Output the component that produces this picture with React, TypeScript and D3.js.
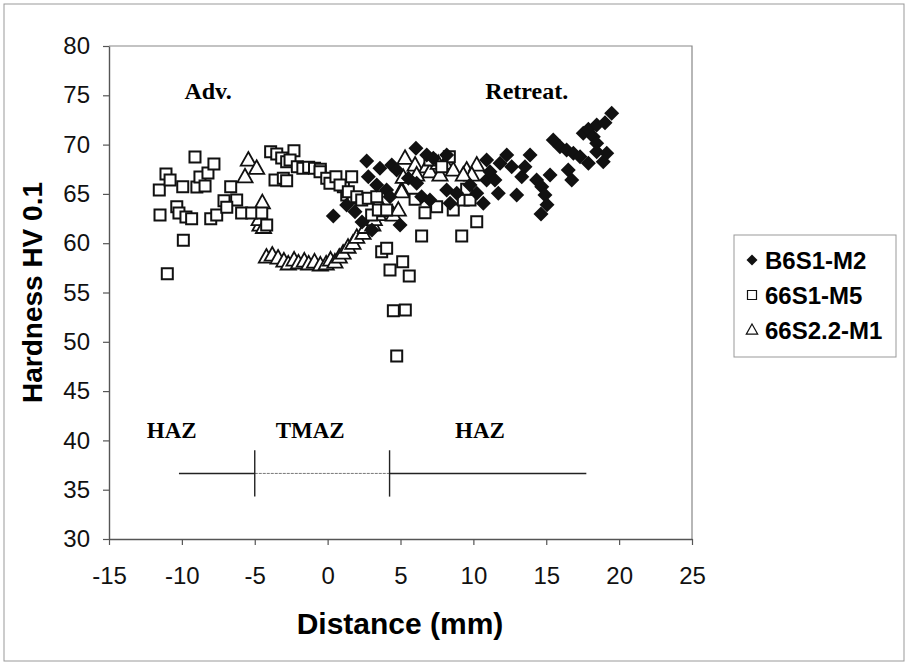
import * as d3 from "d3";
import { useRef, useEffect } from "react";

// series: [distance mm, hardness HV0.1]
const seriesB6S1M2: [number, number][] = [
  [0.39, 62.76], [1.31, 63.87], [1.88, 63.19], [2.36, 62.15], [3.04, 61.34], [4.97, 61.85],
  [2.68, 68.34], [3.59, 67.6], [6.06, 69.62], [4.4, 67.93], [4.74, 67.42], [5.54, 66.58],
  [6.11, 66.07], [6.8, 68.95], [7.25, 68.61], [8.17, 68.95], [2.79, 66.74], [3.37, 65.9],
  [4.05, 65.4], [4.28, 64.72], [6.45, 64.72], [7.02, 64.38], [8.17, 65.4], [8.86, 65.06],
  [8.4, 64.05], [9.77, 65.9], [10.23, 65.06], [10.68, 64.05], [10.91, 66.41],
  [10.91, 68.44], [11.14, 67.25], [11.48, 66.41], [11.71, 65.06], [11.83, 68.1], [12.29, 68.95],
  [12.63, 67.76], [12.97, 64.89], [13.32, 66.74], [13.54, 67.76], [13.89, 68.95], [14.34, 66.41],
  [14.69, 65.73], [14.91, 64.89], [14.64, 62.96], [15.05, 63.9], [15.26, 66.92], [15.48, 70.47],
  [15.94, 69.79], [16.4, 69.45], [16.51, 67.42], [16.75, 66.41], [16.86, 69.12], [17.32, 68.77],
  [17.54, 71.15], [17.89, 71.55], [17.89, 68.1], [18.23, 70.8], [18.46, 71.99], [18.46, 70.13],
  [18.46, 69.28], [18.91, 68.27], [19.03, 72.22], [19.15, 69.12], [19.49, 73.17],
];

const series66S1M5: [number, number][] = [
  [-11.5, 62.86], [-11.55, 65.4], [-11.09, 67.02], [-10.81, 66.4], [-9.94, 65.73], [-9.1, 68.74],
  [-8.97, 65.7], [-8.76, 66.71], [-8.41, 65.8], [-8.21, 67.12], [-7.8, 68.03], [-10.35, 63.7],
  [-10.2, 63.06], [-9.72, 62.66], [-9.33, 62.49], [-8.02, 62.49], [-7.61, 62.86], [-7.11, 64.31],
  [-6.65, 65.73], [-6.24, 64.38], [-6.92, 63.65], [-5.9, 63.06], [-5.21, 63.06], [-4.52, 63.06],
  [-4.18, 61.85], [-11.0, 56.9], [-9.9, 60.3], [-3.91, 69.28], [-3.49, 69.05], [-3.15, 68.64],
  [-2.81, 68.27], [-2.31, 69.38], [-2.58, 68.44], [-3.61, 66.41], [-3.04, 66.58], [-2.81, 66.34],
  [-2.08, 67.76], [-1.7, 67.6], [-1.3, 67.7], [-0.9, 67.6], [-0.5, 67.5], [-0.52, 67.25],
  [-0.06, 66.58], [0.16, 66.07], [0.57, 66.74], [1.08, 65.73], [1.65, 66.74], [1.31, 64.89],
  [1.76, 64.55], [0.85, 65.9], [1.42, 65.22], [2.0, 64.72], [2.34, 64.38], [2.79, 64.55],
  [3.37, 64.72], [3.02, 62.86], [3.48, 63.36], [4.05, 63.36], [6.0, 64.45], [6.68, 63.09],
  [7.48, 63.7], [7.02, 68.44], [8.35, 68.77], [7.83, 67.76], [8.62, 63.36], [9.31, 64.38],
  [9.77, 64.38], [9.54, 65.47], [10.23, 62.18], [3.71, 59.14], [4.05, 59.48], [4.28, 57.28],
  [5.15, 58.12], [5.6, 56.67], [4.51, 53.15], [5.33, 53.23], [4.74, 48.56], [6.45, 60.73],
  [9.2, 60.73],
];

const series66S22M1: [number, number][] = [
  [-5.44, 68.44], [-4.87, 67.6], [-5.67, 66.74], [-4.48, 64.11], [-4.64, 61.85], [-4.7, 62.4],
  [-4.4, 61.6], [-4.2, 58.6], [-3.8, 58.8], [-3.4, 58.5], [-3.0, 58.2], [-2.7, 57.9],
  [-2.3, 58.3], [-2.0, 58.0], [-1.6, 58.2], [-1.3, 57.9], [-0.9, 58.1], [-0.5, 57.8],
  [-0.1, 57.9], [0.2, 58.3], [0.5, 58.1], [0.8, 58.6], [1.06, 59.0], [1.4, 59.6], [1.74, 60.0],
  [2.0, 60.6], [2.43, 61.0], [2.6, 61.6], [3.1, 61.85], [3.2, 62.4], [3.5, 62.9], [3.8, 63.3],
  [4.51, 62.86], [4.85, 63.36], [5.08, 65.4], [5.08, 65.22], [5.31, 68.61], [6.0, 67.93],
  [6.8, 67.76], [7.02, 67.25], [6.11, 66.92], [5.19, 66.68], [7.71, 66.92], [7.59, 68.1],
  [8.05, 68.1], [8.62, 67.42], [9.54, 67.42], [10.23, 67.93], [9.89, 66.92], [9.31, 66.92],
];

const xTicks = [-15, -10, -5, 0, 5, 10, 15, 20, 25];
const yTicks = [30, 35, 40, 45, 50, 55, 60, 65, 70, 75, 80];
const legendNames = ["B6S1-M2", "66S1-M5", "66S2.2-M1"];

// zone annotations
const zoneLabels: [string, number][] = [["HAZ", -10.7], ["TMAZ", -1.2], ["HAZ", 10.45]];
const zoneLineY = 36.65;
const zoneLineEnds = [-10.2, 17.75];
const zoneBounds = [-5, 4.25];

const diamond = (r: number) => `M0,${-r}L${r},0L0,${r}L${-r},0Z`;
const triangle = (r: number) => `M0,${-r}L${r * 0.95},${r * 0.7}L${-r * 0.95},${r * 0.7}Z`;

export default function App() {
  const svgRef = useRef<SVGSVGElement>(null);

  useEffect(() => {
    const svg = d3.select(svgRef.current);
    svg.selectAll("*").remove();

    const x = d3.scaleLinear().domain([-15, 25]).range([109, 692]);
    const y = d3.scaleLinear().domain([30, 80]).range([539, 46]);
    const sans = "'Liberation Sans', Arial, sans-serif";
    const serif = "'Liberation Serif', 'Times New Roman', serif";

    // outer frame
    svg.append("rect").attr("x", 4).attr("y", 4).attr("width", 900).attr("height", 657)
      .attr("fill", "white").attr("stroke", "#999").attr("stroke-width", 1);

    // plot area border
    svg.append("path")
      .attr("d", `M${x(-15)},${y(80)}H${x(25)}V${y(30)}`)
      .attr("fill", "none").attr("stroke", "#888").attr("stroke-width", 1.2);

    // axes
    const fmt = (d: any) => String(d);
    const xAxis = svg.append("g").attr("transform", `translate(0,${y(30)})`)
      .call(d3.axisBottom(x).tickValues(xTicks).tickFormat(fmt).tickSize(6).tickSizeOuter(0).tickPadding(22));
    const yAxis = svg.append("g").attr("transform", `translate(${x(-15)},0)`)
      .call(d3.axisLeft(y).tickValues(yTicks).tickFormat(fmt).tickSize(6).tickSizeOuter(0).tickPadding(13));
    [xAxis, yAxis].forEach(g => {
      g.select(".domain").attr("stroke", "#555").attr("stroke-width", 1.4);
      g.selectAll(".tick line").attr("stroke", "#555").attr("stroke-width", 1.2);
      g.selectAll("text").attr("font-family", sans).attr("font-size", 24).attr("fill", "#111");
    });

    // axis titles
    svg.append("text").attr("x", 400).attr("y", 634).attr("text-anchor", "middle")
      .attr("font-family", sans).attr("font-weight", "bold").attr("font-size", 30)
      .text("Distance (mm)");
    svg.append("text").attr("transform", `translate(42,${y(55)}) rotate(-90)`)
      .attr("text-anchor", "middle").attr("font-family", sans).attr("font-weight", "bold")
      .attr("font-size", 28).text("Hardness HV 0.1");

    // zone annotation
    const za = svg.append("g").attr("stroke", "#222").attr("stroke-width", 1.4);
    za.append("line").attr("x1", x(zoneLineEnds[0])).attr("x2", x(zoneBounds[0]))
      .attr("y1", y(zoneLineY)).attr("y2", y(zoneLineY));
    za.append("line").attr("x1", x(zoneBounds[0])).attr("x2", x(zoneBounds[1]))
      .attr("y1", y(zoneLineY)).attr("y2", y(zoneLineY)).attr("stroke", "#777")
      .attr("stroke-width", 1).attr("stroke-dasharray", "3,1");
    za.append("line").attr("x1", x(zoneBounds[1])).attr("x2", x(zoneLineEnds[1]))
      .attr("y1", y(zoneLineY)).attr("y2", y(zoneLineY));
    zoneBounds.forEach(b => {
      za.append("line").attr("x1", x(b)).attr("x2", x(b))
        .attr("y1", y(39.0)).attr("y2", y(34.3));
    });
    zoneLabels.forEach(([t, xv]) => {
      svg.append("text").attr("x", x(xv)).attr("y", y(40.2)).attr("text-anchor", "middle")
        .attr("font-family", serif).attr("font-weight", "bold").attr("font-size", 23)
        .text(t);
    });

    // Adv. / Retreat. labels
    svg.append("text").attr("x", x(-8.2)).attr("y", y(74.6)).attr("text-anchor", "middle")
      .attr("font-family", serif).attr("font-weight", "bold").attr("font-size", 24).text("Adv.");
    svg.append("text").attr("x", x(13.66)).attr("y", y(74.6)).attr("text-anchor", "middle")
      .attr("font-family", serif).attr("font-weight", "bold").attr("font-size", 24).text("Retreat.");

    // points
    const plot = svg.append("g");
    plot.selectAll("path.tri").data(series66S22M1).enter().append("path")
      .attr("class", "tri")
      .attr("transform", d => `translate(${x(d[0])},${y(d[1])})`)
      .attr("d", triangle(8)).attr("fill", "white").attr("stroke", "#111").attr("stroke-width", 1.8);
    plot.selectAll("path.sq").data(series66S1M5).enter().append("path")
      .attr("class", "sq")
      .attr("transform", d => `translate(${x(d[0])},${y(d[1])})`)
      .attr("d", "M-5.5,-5.5H5.5V5.5H-5.5Z").attr("fill", "white").attr("stroke", "#111")
      .attr("stroke-width", 2);
    plot.selectAll("path.dia").data(seriesB6S1M2).enter().append("path")
      .attr("class", "dia")
      .attr("transform", d => `translate(${x(d[0])},${y(d[1])})`)
      .attr("d", diamond(7.5)).attr("fill", "#111");

    // legend
    const lg = svg.append("g");
    lg.append("rect").attr("x", 734).attr("y", 235).attr("width", 162).attr("height", 122)
      .attr("fill", "white").attr("stroke", "#999").attr("stroke-width", 1);
    const markers = [
      (g: any) => g.append("path").attr("d", diamond(5.5)).attr("fill", "#111"),
      (g: any) => g.append("path").attr("d", "M-4.5,-4.5H4.5V4.5H-4.5Z").attr("fill", "white")
        .attr("stroke", "#111").attr("stroke-width", 1.2),
      (g: any) => g.append("path").attr("d", triangle(6)).attr("fill", "white")
        .attr("stroke", "#111").attr("stroke-width", 1.2),
    ];
    legendNames.forEach((name, i) => {
      const gy = 260 + i * 35;
      const g = lg.append("g").attr("transform", `translate(752,${gy})`);
      markers[i](g);
      lg.append("text").attr("x", 765).attr("y", gy).attr("dy", "0.36em")
        .attr("font-family", sans).attr("font-weight", "bold").attr("font-size", 24)
        .text(name);
    });
  }, []);

  return (
    <svg ref={svgRef} width={909} height={666}
      style={{ position: "absolute", left: 0, top: 0, background: "white" }} />
  );
}
